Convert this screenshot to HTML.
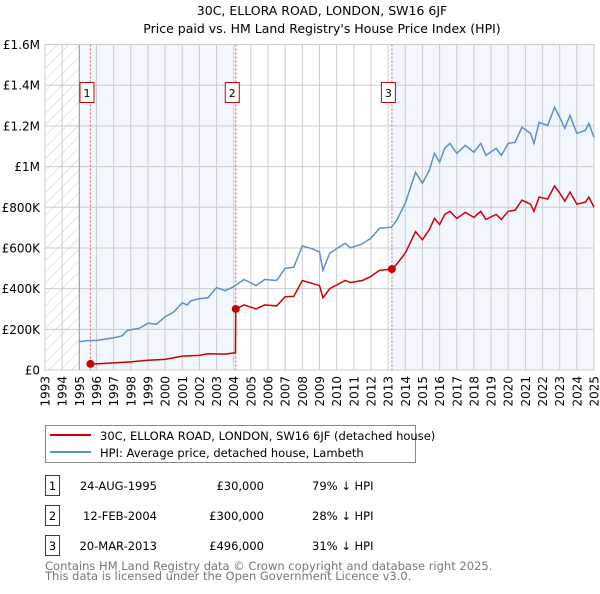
<!DOCTYPE html>
<html><head><meta charset="utf-8"><style>
body{margin:0;background:#fff;font-family:"DejaVu Sans","Liberation Sans",sans-serif;}
svg text{font-family:"DejaVu Sans","Liberation Sans",sans-serif;}
</style></head><body>
<svg id="c" width="600" height="590" xmlns="http://www.w3.org/2000/svg">
<defs><pattern id="hatch" width="8" height="8" patternUnits="userSpaceOnUse" patternTransform="rotate(45)"><line x1="0" y1="0" x2="0" y2="8" stroke="#ccc" stroke-width="1"/></pattern></defs>
<text x="322" y="15" text-anchor="middle" font-size="12.5" fill="#000">30C, ELLORA ROAD, LONDON, SW16 6JF</text>
<text x="322" y="33" text-anchor="middle" font-size="12.5" fill="#000">Price paid vs. HM Land Registry's House Price Index (HPI)</text>
<g id="plot"></g>
<g>
<rect x="45.5" y="425.5" width="370" height="37" fill="#fff" stroke="#888"/>
<line x1="50" y1="435" x2="91" y2="435" stroke="#cc0000" stroke-width="2"/>
<text x="100" y="440" font-size="11.5">30C, ELLORA ROAD, LONDON, SW16 6JF (detached house)</text>
<line x1="50" y1="452" x2="91" y2="452" stroke="#5b8fd0" stroke-width="2"/>
<text x="100" y="457" font-size="11.5">HPI: Average price, detached house, Lambeth</text>
</g>
<g font-size="11.5">
<rect x="45.5" y="475.5" width="14" height="20" fill="#fff" stroke="#cc0000"/><text x="52.5" y="490" text-anchor="middle">1</text>
<text x="157" y="490" text-anchor="end">24-AUG-1995</text><text x="264" y="490" text-anchor="end">£30,000</text><text x="312" y="490">79% ↓ HPI</text>
<rect x="45.5" y="505.5" width="14" height="20" fill="#fff" stroke="#cc0000"/><text x="52.5" y="520" text-anchor="middle">2</text>
<text x="157" y="520" text-anchor="end">12-FEB-2004</text><text x="264" y="520" text-anchor="end">£300,000</text><text x="312" y="520">28% ↓ HPI</text>
<rect x="45.5" y="535.5" width="14" height="20" fill="#fff" stroke="#cc0000"/><text x="52.5" y="550" text-anchor="middle">3</text>
<text x="157" y="550" text-anchor="end">20-MAR-2013</text><text x="264" y="550" text-anchor="end">£496,000</text><text x="312" y="550">31% ↓ HPI</text>
</g>
<text x="45" y="570" font-size="11.5" fill="#777">Contains HM Land Registry data © Crown copyright and database right 2025.</text>
<text x="45" y="580" font-size="11.5" fill="#777">This data is licensed under the Open Government Licence v3.0.</text>
</svg>
<script>
const yTicks=[0,200000,400000,600000,800000,1000000,1200000,1400000,1600000];
const yLabels=["£0","£200K","£400K","£600K","£800K","£1M","£1.2M","£1.4M","£1.6M"];
const years=[1993,1994,1995,1996,1997,1998,1999,2000,2001,2002,2003,2004,2005,2006,2007,2008,2009,2010,2011,2012,2013,2014,2015,2016,2017,2018,2019,2020,2021,2022,2023,2024,2025];
const saleDates=[1995.65,2004.12,2013.22];
const salePrices=[30000,300000,496000];
const hpiT=[1995,1995.5,1996,1996.5,1997,1997.5,1997.8,1998.5,1999,1999.5,2000,2000.5,2001,2001.3,2001.5,2002,2002.5,2003,2003.5,2004,2004.6,2005.3,2005.8,2006.5,2007,2007.5,2008,2008.6,2009,2009.2,2009.6,2010.5,2010.8,2011.5,2012,2012.5,2013.2,2013.5,2014,2014.6,2015,2015.4,2015.7,2016,2016.3,2016.6,2017,2017.5,2018,2018.4,2018.7,2019.3,2019.6,2020,2020.4,2020.8,2021.3,2021.5,2021.8,2022.3,2022.7,2023,2023.3,2023.6,2024,2024.5,2024.7,2025];
const hpiV=[139000,145000,145000,152000,158000,168000,195000,205000,230000,225000,262000,285000,330000,320000,340000,350000,355000,405000,390000,410000,445000,415000,445000,440000,500000,505000,610000,595000,580000,490000,575000,623000,600000,620000,648000,697000,702000,736000,820000,972000,918000,982000,1065000,1021000,1090000,1114000,1065000,1104000,1070000,1114000,1055000,1090000,1055000,1114000,1119000,1193000,1163000,1114000,1217000,1202000,1291000,1242000,1188000,1252000,1163000,1178000,1212000,1144000];
const ppT=[1995.65,1996,1997,1998,1999,2000,2000.5,2001,2002,2002.5,2003.5,2004.1,2004.12,2004.6,2005.3,2005.8,2006.5,2007,2007.5,2008,2008.6,2009,2009.2,2009.6,2010.5,2010.8,2011.5,2012,2012.5,2013.22,2013.5,2014,2014.6,2015,2015.4,2015.7,2016,2016.3,2016.6,2017,2017.5,2018,2018.4,2018.7,2019.3,2019.6,2020,2020.4,2020.8,2021.3,2021.5,2021.8,2022.3,2022.7,2023,2023.3,2023.6,2024,2024.5,2024.7,2025];
const ppV=[30000,30000,35000,40000,48000,52000,60000,68000,72000,80000,78000,85000,300000,320000,300000,320000,315000,360000,362000,440000,425000,415000,355000,400000,440000,430000,440000,460000,490000,496000,520000,575000,680000,640000,690000,745000,715000,765000,780000,745000,775000,750000,780000,740000,765000,740000,780000,785000,835000,815000,780000,850000,840000,905000,870000,830000,875000,815000,825000,850000,800000];
const X0=45,X1=594,Y0=370,Y1=44.5;
const x=t=>X0+(t-1993)/(2025-1993)*(X1-X0);
const y=v=>Y0-v/1600000*(Y0-Y1);
const NS="http://www.w3.org/2000/svg",g=document.getElementById('plot');
function mk(tag,a,p){const e=document.createElementNS(NS,tag);for(const k in a)e.setAttribute(k,a[k]);(p||g).appendChild(e);return e;}
let e;
e=mk('rect',{x:X0,y:Y1,width:x(1995)-X0,height:Y0-Y1,fill:'url(#hatch)'});


e=mk('rect',{x:x(1995),y:Y1,width:x(saleDates[1])-x(1995),height:Y0-Y1,fill:'#eef3fc',opacity:0.75});


e=mk('rect',{x:x(saleDates[2]),y:Y1,width:X1-x(saleDates[2]),height:Y0-Y1,fill:'#eef3fc',opacity:0.75});


yTicks.forEach((v,i)=>{
 e=mk('line',{x1:X0,x2:X1,y1:y(v),y2:y(v),stroke:'#ccc','stroke-width':1});
 
 
 e=mk('text',{x:40,y:y(v)+4.5,'text-anchor':'end','font-size':12});e.textContent=yLabels[i];
 
 
});
years.forEach(yr=>{
 e=mk('line',{x1:x(yr),x2:x(yr),y1:Y1,y2:Y0,stroke:'#ccc','stroke-width':1});
 
 
 e=mk('text',{transform:`translate(${x(yr)+4.5},376) rotate(-90)`,'text-anchor':'end','font-size':12});e.textContent=yr;
 
 
});
e=mk('line',{x1:x(1995),x2:x(1995),y1:Y1,y2:Y0,stroke:'#999'});


e=mk('rect',{x:X0,y:Y1,width:X1-X0,height:Y0-Y1,fill:'none',stroke:'#ccc'});


saleDates.forEach((t,i)=>{
 e=mk('line',{x1:x(t),x2:x(t),y1:Y1,y2:Y0,stroke:'#e06060','stroke-dasharray':'2,2','stroke-width':1});
 
 
 e=mk('rect',{x:x(t)-10.5,y:82.5,width:14,height:20,fill:'#fff',stroke:'#cc0000'});
 
 
 e=mk('text',{x:x(t)-3.5,y:97,'text-anchor':'middle','font-size':11});e.textContent=String(i+1);
 
 
});
e=mk('polyline',{points:hpiT.map((t,i)=>x(t)+','+y(hpiV[i])).join(' '),fill:'none',stroke:'#5b8fd0','stroke-width':1.5});


e=mk('polyline',{points:ppT.map((t,i)=>x(t)+','+y(ppV[i])).join(' '),fill:'none',stroke:'#cc0000','stroke-width':1.5});


saleDates.forEach((t,i)=>{
 e=mk('circle',{cx:x(t),cy:y(salePrices[i]),r:4,fill:'#cc0000'});
 
 
});
</script>
</body></html>
